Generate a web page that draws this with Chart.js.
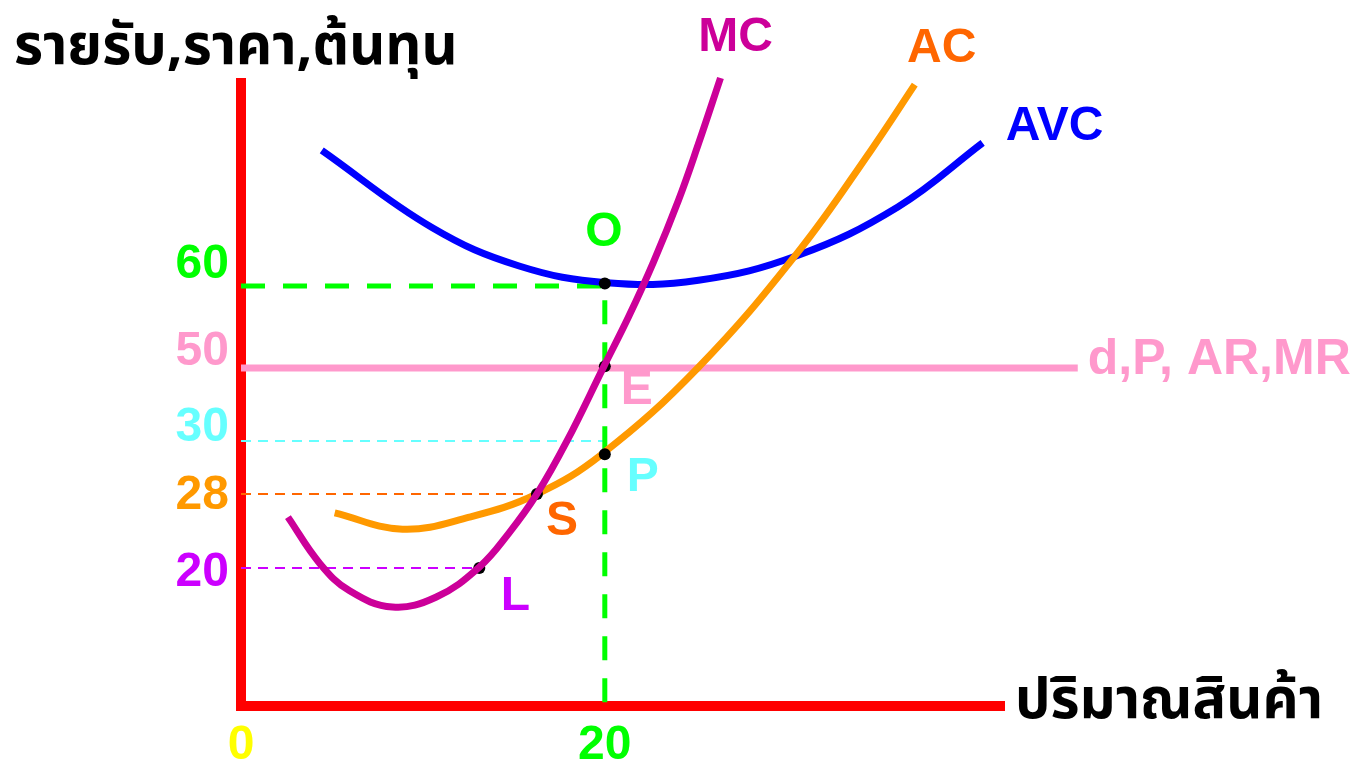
<!DOCTYPE html>
<html>
<head>
<meta charset="utf-8">
<script src="https://cdn.jsdelivr.net/npm/chart.js@4/dist/chart.umd.min.js"></script>
<style>
  body { margin: 0; background: #fff; }
  canvas { display: block; }
</style>
</head>
<body>
<canvas id="chart" width="1357" height="763"></canvas>
<script>
// quantity (x) and price/cost (y)
const mcX = [2.58, 4.33, 5.97, 8.33, 10.74, 13.1, 14.74, 16.27, 17.92, 19.95, 21.32, 22.68, 24.05, 25.15, 26.36];
const mcY = [25.5, 20.5, 16.7, 14.35, 15.8, 20.1, 23.8, 28.0, 30.0, 50.2, 56.3, 62.9, 70.3, 77.1, 85.0];

const acX = [5.15, 8.88, 12.55, 16.27, 19.84, 25.15, 30.63, 34.63, 37.04];
const acY = [25.95, 24.2, 25.5, 28.0, 29.5, 50.1, 64.1, 76.3, 84.2];

const avcX = [4.44, 10.52, 15.29, 20.11, 25.15, 30.63, 36.11, 40.77];
const avcY = [76.3, 67.0, 62.4, 60.4, 60.7, 63.7, 69.5, 77.2];

// marked points
const pointNames = ["O", "E", "P", "S", "L"];
const pointX = [20, 20, 20, 16.27, 13.1];
const pointY = [60.3, 50.2, 29.5, 28, 20];

// price line d,P,AR,MR
const priceLevel = 50;
const priceEndX = 46;

// axis tick labels
const yTickValues = [60, 50, 30, 28, 20];
const yTickLabels = ["60", "50", "30", "28", "20"];
const xTickValues = [0, 20];
const xTickLabels = ["0", "20"];

// the value axis is not drawn to scale: value -> fraction of axis height
const yBreaks = [[0, 0], [20, 0.2197], [28, 0.3376], [30, 0.422], [50, 0.5382], [60, 0.6688], [85, 1]];

const LinearScale = Chart.LinearScale || Chart.registry.getScale('linear');

class BrokenScale extends LinearScale {
  static id = 'broken';
  static defaults = LinearScale.defaults;

  toDecimal(v) {
    for (let i = 1; i < yBreaks.length; i++) {
      const [v0, d0] = yBreaks[i - 1];
      const [v1, d1] = yBreaks[i];
      if (v <= v1 || i === yBreaks.length - 1) {
        return d0 + (v - v0) / (v1 - v0) * (d1 - d0);
      }
    }
    return 0;
  }

  fromDecimal(d) {
    for (let i = 1; i < yBreaks.length; i++) {
      const [v0, d0] = yBreaks[i - 1];
      const [v1, d1] = yBreaks[i];
      if (d <= d1 || i === yBreaks.length - 1) {
        return v0 + (d - d0) / (d1 - d0) * (v1 - v0);
      }
    }
    return 0;
  }

  getPixelForValue(value) {
    return value === null ? NaN : this.getPixelForDecimal(this.toDecimal(value));
  }

  getValueForPixel(pixel) {
    return this.fromDecimal(this.getDecimalForPixel(pixel));
  }
}
Chart.register(BrokenScale);

const zip = (xs, ys) => xs.map((x, i) => ({ x: x, y: ys[i] }));

const BOLD = 'bold 48px "Liberation Sans", Arial, sans-serif';
const THAI = 'bold 56px "Noto Sans Thai", "Noto Sans", "DejaVu Sans", sans-serif';

const yTickColors = ["#00ff00", "#ff99cc", "#66ffff", "#ff9900", "#cc00ff"];
const yTickDy = [-21, -16, -13, 2, 5];
const xTickColors = ["#ffff00", "#00ff00"];

// text near the curves and points: anchor in data units, shift in px
const notes = [
  { text: "MC", x: mcX[mcX.length - 1], y: mcY[mcY.length - 1], dx: 15, dy: -40, color: "#cc0099" },
  { text: "AC", x: acX[acX.length - 1], y: acY[acY.length - 1], dx: 27, dy: -36, color: "#ff6600" },
  { text: "AVC", x: avcX[avcX.length - 1], y: avcY[avcY.length - 1], dx: 72, dy: -16, color: "#0000ff" },
  { text: "O", x: pointX[0], y: pointY[0], dx: -1, dy: -51, color: "#00ff00" },
  { text: "E", x: pointX[1], y: pointY[1], dx: 32, dy: 24, color: "#ff99cc" },
  { text: "P", x: pointX[2], y: pointY[2], dx: 38, dy: 24, color: "#66ffff" },
  { text: "S", x: pointX[3], y: pointY[3], dx: 25, dy: 28, color: "#ff6600" },
  { text: "L", x: pointX[4], y: pointY[4], dx: 36, dy: 29, color: "#cc00ff" }
];

const axesPlugin = {
  id: 'axes',
  beforeDatasetsDraw(chart) {
    const { ctx, chartArea } = chart;
    ctx.save();
    ctx.fillStyle = "#ff0000";
    ctx.fillRect(chartArea.left - 5, chartArea.top, 10, chartArea.bottom - chartArea.top + 5);
    ctx.fillRect(chartArea.left - 5, chartArea.bottom - 5, chartArea.right - chartArea.left + 5, 10);
    ctx.restore();
  }
};

const textPlugin = {
  id: 'texts',
  afterDatasetsDraw(chart) {
    const { ctx, chartArea } = chart;
    const xs = chart.scales.x;
    const ys = chart.scales.y;
    ctx.save();
    ctx.textBaseline = "middle";

    ctx.font = BOLD;
    ctx.textAlign = "right";
    yTickValues.forEach((v, i) => {
      ctx.fillStyle = yTickColors[i];
      ctx.fillText(yTickLabels[i], chartArea.left - 12, ys.getPixelForValue(v) + yTickDy[i]);
    });

    ctx.textAlign = "center";
    xTickValues.forEach((v, i) => {
      ctx.fillStyle = xTickColors[i];
      ctx.fillText(xTickLabels[i], xs.getPixelForValue(v), chartArea.bottom + 40);
    });

    notes.forEach(n => {
      ctx.fillStyle = n.color;
      ctx.fillText(n.text, xs.getPixelForValue(n.x) + n.dx, ys.getPixelForValue(n.y) + n.dy);
    });

    ctx.textAlign = "left";
    ctx.fillStyle = "#ff99cc";
    ctx.font = 'bold 50px "Liberation Sans", Arial, sans-serif';
    ctx.fillText("d,P, AR,MR", xs.getPixelForValue(priceEndX) + 10, ys.getPixelForValue(priceLevel) - 8);

    ctx.font = THAI;
    ctx.fillStyle = "#000000";
    ctx.textBaseline = "alphabetic";
    ctx.fillText("รายรับ,ราคา,ต้นทุน", 14, 64);
    ctx.fillText("ปริมาณสินค้า", chartArea.right + 10, chartArea.bottom + 12);
    ctx.restore();
  }
};

const curve = (label, xs, ys, color) => ({
  label: label,
  data: zip(xs, ys),
  borderColor: color,
  borderWidth: 7,
  pointRadius: 0,
  tension: 0.4,
  clip: false
});

const guide = (points, color, width, dash) => ({
  data: points,
  borderColor: color,
  borderWidth: width,
  borderDash: dash,
  pointRadius: 0,
  tension: 0,
  clip: false
});

new Chart(document.getElementById("chart"), {
  type: "line",
  data: {
    datasets: [
      curve("MC", mcX, mcY, "#cc0099"),
      {
        label: "points",
        data: zip(pointX, pointY),
        showLine: false,
        pointRadius: 6,
        pointBackgroundColor: "#000000",
        pointBorderWidth: 0,
        clip: false
      },
      curve("AC", acX, acY, "#ff9900"),
      curve("AVC", avcX, avcY, "#0000ff"),
      guide([{ x: 0, y: priceLevel }, { x: priceEndX, y: priceLevel }], "#ff99cc", 7, []),
      guide([{ x: 0, y: yTickValues[0] }, { x: pointX[0], y: yTickValues[0] }, { x: pointX[0], y: 0 }], "#00ff00", 5, [24, 18]),
      guide([{ x: 0, y: yTickValues[2] }, { x: pointX[2], y: yTickValues[2] }], "#66ffff", 2, [10, 7]),
      guide([{ x: 0, y: yTickValues[3] }, { x: pointX[3], y: yTickValues[3] }], "#ff6600", 2, [10, 7]),
      guide([{ x: 0, y: yTickValues[4] }, { x: pointX[4], y: yTickValues[4] }], "#cc00ff", 2, [10, 7])
    ]
  },
  options: {
    responsive: false,
    animation: false,
    events: [],
    layout: { padding: { left: 241, right: 352, top: 78, bottom: 57 } },
    scales: {
      x: { type: "linear", min: 0, max: 42, display: false },
      y: { type: "broken", min: 0, max: 85, display: false }
    },
    plugins: {
      legend: { display: false },
      tooltip: { enabled: false }
    }
  },
  plugins: [axesPlugin, textPlugin]
});
</script>
</body>
</html>
